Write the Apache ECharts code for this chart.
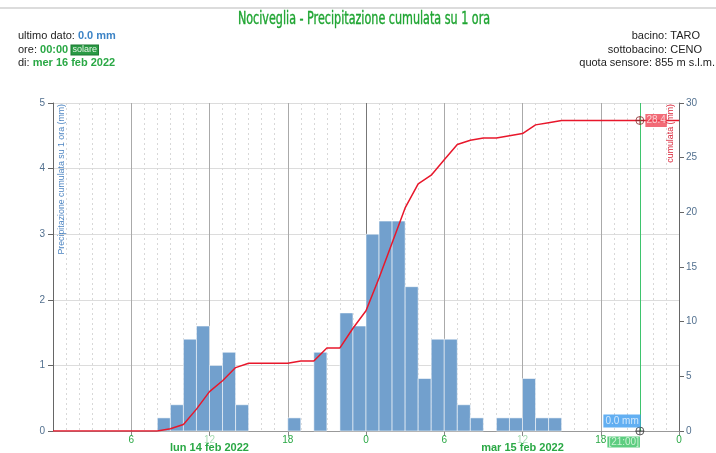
<!DOCTYPE html>
<html>
<head>
<meta charset="utf-8">
<script src="https://cdn.jsdelivr.net/npm/echarts@6/dist/echarts.min.js"></script>
<style>
  html, body { margin: 0; padding: 0; background: #fff; }
  #chart { width: 716px; height: 453px; }
</style>
</head>
<body>
<div id="chart"></div>
<script>
// pioggia oraria (mm), ora 0 = lun 14 feb 2022 00:00
var rainHourly = [0, 0, 0, 0, 0, 0, 0, 0, 0.2, 0.4, 1.4, 1.6, 1.0, 1.2, 0.4, 0,
    0, 0, 0.2, 0, 1.2, 0, 1.8, 1.6, 3.0, 3.2, 3.2, 2.2, 0.8, 1.4, 1.4, 0.4,
    0.2, 0, 0.2, 0.2, 0.8, 0.2, 0.2, 0, 0, 0, 0, 0, 0, 0, 0, 0];
// cumulata (mm) ai limiti d'ora 0..48
var cumulata = [0, 0, 0, 0, 0, 0, 0, 0, 0, 0.2, 0.6, 2.0, 3.6, 4.6, 5.8, 6.2,
    6.2, 6.2, 6.2, 6.4, 6.4, 7.6, 7.6, 9.4, 11.0, 14.0, 17.2, 20.4, 22.6, 23.4, 24.8, 26.2,
    26.6, 26.8, 26.8, 27.0, 27.2, 28.0, 28.2, 28.4, 28.4, 28.4, 28.4, 28.4, 28.4, 28.4, 28.4, 28.4, 28.4];
// etichette asse x ogni 6 ore
var hourLabels = { 6: '6', 12: '12', 18: '18', 24: '0', 30: '6', 36: '12', 42: '18', 48: '0' };
var dayLabels = { 12: 'lun 14 feb 2022', 36: 'mar 15 feb 2022' };
var cursorHour = 45;
var cursorLabel = '[21:00]';

var GREEN = '#2aa845';
var AXIS_TXT = '#52708f';
var CURSOR_SYMBOL = 'path://M8,0A8,8,0,1,1,8,16A8,8,0,1,1,8,0ZM0,8L16,8M8,0L8,16';

var barData = [];
for (var i = 0; i < rainHourly.length; i++) {
    if (rainHourly[i] > 0) barData.push([i, rainHourly[i]]);
}
var lineData = [];
for (var j = 0; j < cumulata.length; j++) {
    lineData.push([j, cumulata[j]]);
}

var chart = echarts.init(document.getElementById('chart'), null, { renderer: 'canvas' });

var font = 'Liberation Sans, Arial, sans-serif';

var option = {
    animation: false,
    textStyle: { fontFamily: font },
    grid: { left: 53, right: 37, top: 103, bottom: 22 },
    graphic: [
        { type: 'rect', shape: { x: 0, y: 7, width: 716, height: 2 }, style: { fill: '#dcdcdc' } },
        {
            type: 'text', x: 364, y: 19, scaleX: 0.69,
            style: {
                text: 'Nociveglia - Precipitazione cumulata su 1 ora',
                fill: '#1fa532', font: '18px "Liberation Sans Narrow", "DejaVu Sans Condensed", sans-serif',
                textAlign: 'center', textVerticalAlign: 'middle', stroke: '#1fa532', lineWidth: 0.4
            }
        },
        {
            type: 'text', x: 18, y: 36,
            style: {
                text: '{a|ultimo dato: }{b|0.0 mm}', textVerticalAlign: 'middle',
                rich: {
                    a: { fontSize: 11, fill: '#222', fontFamily: font },
                    b: { fontSize: 11, fill: '#3d84c6', fontWeight: 'bold', fontFamily: font }
                }
            }
        },
        {
            type: 'text', x: 18, y: 50,
            style: {
                text: '{a|ore: }{g|00:00} {s|solare}', textVerticalAlign: 'middle',
                rich: {
                    a: { fontSize: 11, fill: '#222', fontFamily: font },
                    g: { fontSize: 11, fill: GREEN, fontWeight: 'bold', fontFamily: font },
                    s: { fontSize: 9, fill: '#e8f5e8', backgroundColor: '#2a9a45', borderColor: '#1d7a33', borderWidth: 1, padding: [0, 1, 0, 1], fontFamily: font }
                }
            }
        },
        {
            type: 'text', x: 18, y: 63,
            style: {
                text: '{a|di: }{g|mer 16 feb 2022}', textVerticalAlign: 'middle',
                rich: {
                    a: { fontSize: 11, fill: '#222', fontFamily: font },
                    g: { fontSize: 11, fill: GREEN, fontWeight: 'bold', fontFamily: font }
                }
            }
        },
        { type: 'text', x: 700, y: 36, style: { text: 'bacino: TARO', font: '11px ' + font, fill: '#222', textAlign: 'right', textVerticalAlign: 'middle' } },
        { type: 'text', x: 702, y: 50, style: { text: 'sottobacino: CENO', font: '11px ' + font, fill: '#222', textAlign: 'right', textVerticalAlign: 'middle' } },
        { type: 'text', x: 715, y: 63, style: { text: 'quota sensore: 855 m s.l.m.', font: '11px ' + font, fill: '#222', textAlign: 'right', textVerticalAlign: 'middle' } },
        // nomi assi
        {
            type: 'text', x: 62, y: 104, rotation: Math.PI / 2, z: 10,
            style: { text: 'Precipitazione cumulata su 1 ora (mm)', font: '8.8px ' + font, fill: '#4f86c2', textAlign: 'right', textVerticalAlign: 'middle' }
        },
        {
            type: 'text', x: 671, y: 104, rotation: Math.PI / 2, z: 10,
            style: { text: 'cumulata (mm)', font: '8.8px ' + font, fill: '#d9263a', textAlign: 'right', textVerticalAlign: 'middle' }
        }
    ],
    xAxis: [
        {
            type: 'value', min: 0, max: 48, interval: 6,
            axisLine: { show: true, onZero: false, lineStyle: { color: '#999' } },
            axisTick: { show: true, length: 5, lineStyle: { color: '#888' } },
            axisLabel: {
                showMinLabel: false, margin: 4, fontSize: 10, color: GREEN,
                formatter: function (v) {
                    var t = hourLabels[v] || '';
                    if (dayLabels[v]) return '{f|' + t + '}';
                    return t;
                },
                rich: { f: { color: '#a8dcb3', fontSize: 10 } }
            },
            splitLine: {
                show: true,
                lineStyle: { color: ['#aaa', '#aaa', '#aaa', '#aaa', '#777', '#aaa', '#aaa', '#aaa', '#aaa'] }
            },
            minorTick: { show: false, splitNumber: 6 },
            minorSplitLine: { show: true, lineStyle: { color: '#d8d8d8', type: [2, 3] } }
        },
        {
            type: 'value', min: 0, max: 48, interval: 6, position: 'bottom',
            axisLine: { show: false, onZero: false }, axisTick: { show: false }, splitLine: { show: false },
            axisLabel: {
                showMinLabel: false, margin: 11, fontSize: 11, fontWeight: 'bold', color: GREEN,
                formatter: function (v) { return dayLabels[v] || ''; }
            }
        }
    ],
    yAxis: [
        {
            type: 'value', min: 0, max: 5, interval: 1,
            axisLine: { show: true, onZero: false, lineStyle: { color: '#666' } },
            axisTick: { show: true, length: 5, lineStyle: { color: '#666' } },
            axisLabel: { fontSize: 10, color: AXIS_TXT, margin: 8 },
            splitLine: { show: true, lineStyle: { color: '#dcdcdc' } }
        },
        {
            type: 'value', min: 0, max: 30, interval: 5, position: 'right',
            axisLine: { show: true, onZero: false, lineStyle: { color: '#666' } },
            axisTick: { show: true, length: 5, lineStyle: { color: '#666' } },
            axisLabel: { fontSize: 10, color: AXIS_TXT, margin: 7 },
            splitLine: { show: false }
        }
    ],
    series: [
        {
            name: 'pioggia oraria', type: 'custom', xAxisIndex: 0, yAxisIndex: 0,
            data: barData, encode: { x: 0, y: 1 }, z: 2,
            renderItem: function (params, api) {
                var h = api.value(0), v = api.value(1);
                var p0 = api.coord([h, v]);
                var p1 = api.coord([h + 1, 0]);
                return {
                    type: 'rect',
                    shape: { x: p0[0], y: p0[1], width: p1[0] - p0[0], height: p1[1] - p0[1] },
                    style: { fill: '#72a0cd', stroke: 'rgba(255,255,255,0.55)', lineWidth: 1 }
                };
            }
        },
        {
            name: 'cumulata', type: 'line', xAxisIndex: 0, yAxisIndex: 1,
            data: lineData, showSymbol: false, z: 3,
            lineStyle: { color: '#e8172b', width: 1.5 }
        },
        {
            name: 'cursore cumulata', type: 'scatter', xAxisIndex: 0, yAxisIndex: 1,
            data: [[cursorHour, cumulata[cursorHour]]], z: 5,
            symbol: CURSOR_SYMBOL, symbolSize: 8,
            itemStyle: { color: 'rgba(255,255,255,0)', borderColor: '#8a2a2a', borderWidth: 1 },
            label: {
                show: true, position: 'right', distance: 1,
                formatter: function (p) { return p.value[1].toFixed(1); },
                color: '#fde8ea', fontSize: 10, backgroundColor: '#ef4655', padding: [2, 1, 1, 1]
            },
            markLine: {
                silent: true, symbol: 'none',
                lineStyle: { color: '#3ec46d', width: 1, type: 'solid' },
                label: { show: false },
                data: [{ xAxis: cursorHour }]
            }
        },
        {
            name: 'cursore pioggia', type: 'scatter', xAxisIndex: 0, yAxisIndex: 0,
            data: [[cursorHour, rainHourly[cursorHour]]], z: 5, clip: false,
            symbol: CURSOR_SYMBOL, symbolSize: 8,
            itemStyle: { color: 'rgba(255,255,255,0)', borderColor: '#333', borderWidth: 1 },
            label: {
                show: true, position: [-32, -12],
                formatter: function (p) { return p.value[1].toFixed(1) + ' mm'; },
                color: '#eef6ff', fontSize: 10, backgroundColor: '#3b9bef', padding: [2, 2, 1, 2]
            }
        },
        {
            name: 'cursore ora', type: 'scatter', xAxisIndex: 0, yAxisIndex: 0,
            data: [[cursorHour, 0]], z: 5, clip: false, silent: true,
            symbolSize: 1, itemStyle: { color: 'rgba(0,0,0,0)' },
            label: {
                show: true, position: [-32, 6], formatter: cursorLabel,
                color: '#eafbea', fontSize: 10, backgroundColor: '#35c060', padding: [1, 1, 0, 1]
            }
        }
    ]
};

chart.setOption(option);
</script>
</body>
</html>
